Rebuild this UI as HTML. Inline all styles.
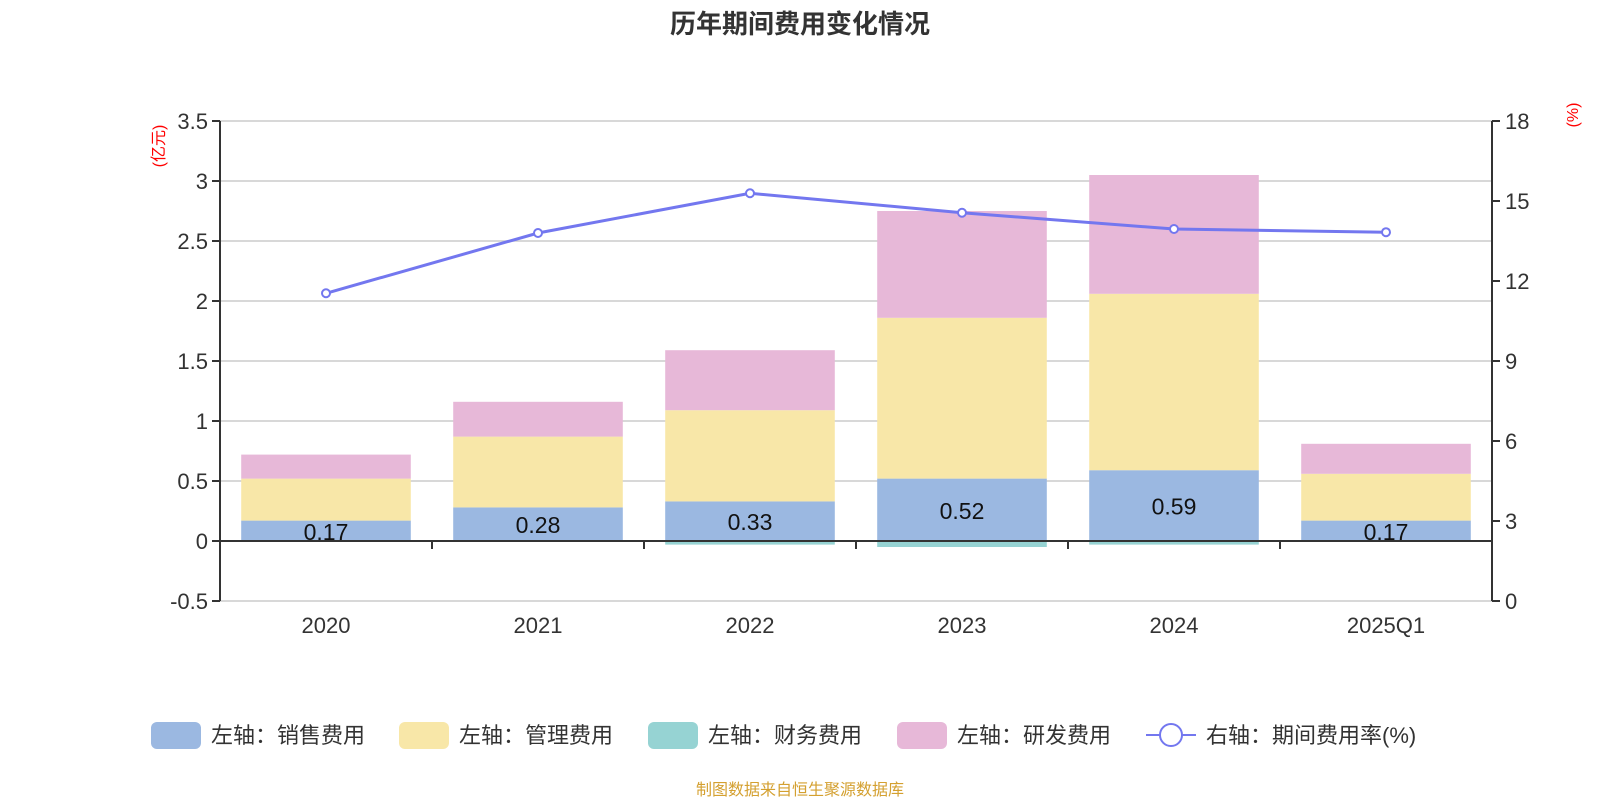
<!DOCTYPE html>
<html><head><meta charset="utf-8"><style>
body{margin:0;background:#fff;width:1600px;height:800px;overflow:hidden;font-family:"Liberation Sans","Noto Sans CJK SC",sans-serif}
</style></head><body>
<svg id="c" width="1600" height="800" xmlns="http://www.w3.org/2000/svg" font-family="Liberation Sans, Noto Sans CJK SC, sans-serif">
<text x="800" y="33" text-anchor="middle" font-size="26" font-weight="bold" fill="#333">历年期间费用变化情况</text>
<text transform="translate(164,146) rotate(-90)" text-anchor="middle" font-size="16" fill="#f00">(亿元)</text>
<text transform="translate(1578,115) rotate(-90)" text-anchor="middle" font-size="16" fill="#f00">(%)</text>
<g id="grid"></g><g id="bars"></g><g id="axes"></g><g id="line"></g>
<g id="legend" font-size="22" fill="#333">
<rect x="151" y="722" width="50" height="27" rx="6" fill="#9bb8e1"/>
<text x="211" y="743">左轴：销售费用</text>
<rect x="399" y="722" width="50" height="27" rx="6" fill="#f8e7a8"/>
<text x="459" y="743">左轴：管理费用</text>
<rect x="648" y="722" width="50" height="27" rx="6" fill="#96d3d3"/>
<text x="708" y="743">左轴：财务费用</text>
<rect x="897" y="722" width="50" height="27" rx="6" fill="#e7b8d8"/>
<text x="957" y="743">左轴：研发费用</text>
<line x1="1146" y1="735" x2="1196" y2="735" stroke="#7377ef" stroke-width="2"/>
<circle cx="1171" cy="735" r="11" fill="#fff" stroke="#7377ef" stroke-width="2"/>
<text x="1206" y="743">右轴：期间费用率(%)</text>
</g>
<text x="800" y="795" text-anchor="middle" font-size="16" fill="#d4a030">制图数据来自恒生聚源数据库</text>
</svg>
<script>
const categories=["2020","2021","2022","2023","2024","2025Q1"];
const sales=[0.17,0.28,0.33,0.52,0.59,0.17];
const admin=[0.35,0.59,0.76,1.34,1.47,0.39];
const finance=[0,0,-0.03,-0.05,-0.03,0];
const rnd=[0.20,0.29,0.50,0.89,0.99,0.25];
const rate=[11.54,13.8,15.29,14.56,13.95,13.83];
const leftTicks=[-0.5,0,0.5,1,1.5,2,2.5,3,3.5];
const rightTicks=[0,3,6,9,12,15,18];
const NS="http://www.w3.org/2000/svg";
const X0=220,X1=1492,band=(X1-X0)/categories.length;
const yL=v=>541-v*120;
const yR=v=>601-v*(480/18);
const xC=i=>X0+band*(i+0.5);
function mk(t,a,p){const e=document.createElementNS(NS,t);for(const k in a)e.setAttribute(k,a[k]);if(p)p.appendChild(e);return e;}
const grid=document.getElementById('grid'),bars=document.getElementById('bars'),axes=document.getElementById('axes'),line=document.getElementById('line');
leftTicks.forEach(v=>{
 const g=mk('line',{x1:X0,x2:X1,y1:yL(v),y2:yL(v),stroke:'#ccc','stroke-width':1.5},grid);
 
 
 const tk=mk('line',{x1:X0-8,x2:X0,y1:yL(v),y2:yL(v),stroke:'#333','stroke-width':2},axes);
 
 
 const t=mk('text',{x:X0-12,y:yL(v)+8,'text-anchor':'end','font-size':22,fill:'#333'},axes);
 t.textContent=v;
 
 
});
rightTicks.forEach(v=>{
 const tk=mk('line',{x1:X1,x2:X1+8,y1:yR(v),y2:yR(v),stroke:'#333','stroke-width':2},axes);
 
 
 const t=mk('text',{x:X1+13,y:yR(v)+8,'font-size':22,fill:'#333'},axes);
 t.textContent=v;
 
 
});
const bw=band*0.8;
categories.forEach((c,i)=>{
 const x=xC(i)-bw/2;
 let pos=0,neg=0;
 [[sales,'#9bb8e1','bar-sales'],[admin,'#f8e7a8','bar-admin'],[finance,'#96d3d3','bar-finance'],[rnd,'#e7b8d8','bar-rnd']].forEach(([arr,col,nm])=>{
  const v=arr[i];if(!v)return;
  let y0,y1;
  if(v>0){y0=pos;y1=pos+v;pos=y1;}else{y0=neg+v;y1=neg;neg=y0;}
  const r=mk('rect',{x:x,y:yL(y1),width:bw,height:yL(y0)-yL(y1),fill:col},bars);
  
  
 });
 const t=mk('text',{x:xC(i),y:yL(sales[i]/2)+9,'text-anchor':'middle','font-size':23,fill:'#111'},bars);
 t.textContent=sales[i].toFixed(2);
 
 
 const ct=mk('text',{x:xC(i),y:633,'text-anchor':'middle','font-size':22,fill:'#333'},axes);
 ct.textContent=c;
 
 
});
for(let i=0;i<=categories.length;i++){
 const tk=mk('line',{x1:X0+band*i,x2:X0+band*i,y1:541,y2:549,stroke:'#333','stroke-width':2},axes);
 
 
}
const xa=mk('line',{x1:X0,x2:X1,y1:541,y2:541,stroke:'#333','stroke-width':2},axes);


const la=mk('line',{x1:X0,x2:X0,y1:yL(3.5),y2:yL(-0.5),stroke:'#333','stroke-width':2},axes);


const ra=mk('line',{x1:X1,x2:X1,y1:yR(18),y2:yR(0),stroke:'#333','stroke-width':2},axes);


const pl=mk('polyline',{points:rate.map((v,i)=>xC(i)+','+yR(v)).join(' '),fill:'none',stroke:'#7377ef','stroke-width':3},line);


rate.forEach((v,i)=>{
 const p=mk('circle',{cx:xC(i),cy:yR(v),r:4,fill:'#fff',stroke:'#7377ef','stroke-width':2},line);
 
 
});
</script>
</body></html>
